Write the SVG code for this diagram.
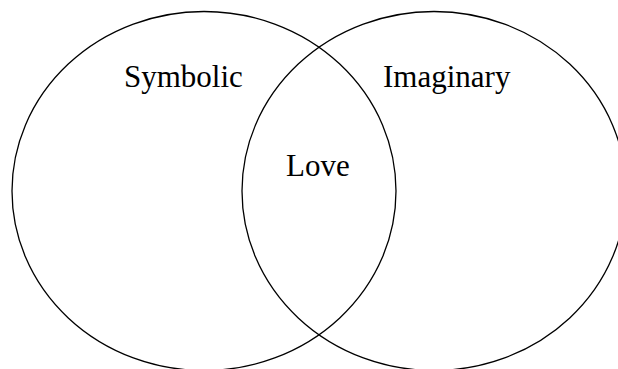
<svg xmlns="http://www.w3.org/2000/svg" width="618" height="369" viewBox="0 0 618 369">
<style>
.c{fill:none;stroke:#000;stroke-width:1.3}
.t{font-family:"Liberation Serif","Times New Roman",serif;font-size:31px;fill:#000}
</style>
<rect width="618" height="369" fill="#fff"/>
<g id="symbolic"><ellipse class="c" cx="204" cy="191" rx="192" ry="179.5"/><text class="t" x="124" y="87">Symbolic</text></g>
<g id="imaginary"><ellipse class="c" cx="434" cy="191" rx="192" ry="179.5"/><text class="t" x="383" y="87">Imaginary</text></g>
<g id="love"><text class="t" x="286" y="176">Love</text></g>
<g id="connectors"></g>
</svg>
